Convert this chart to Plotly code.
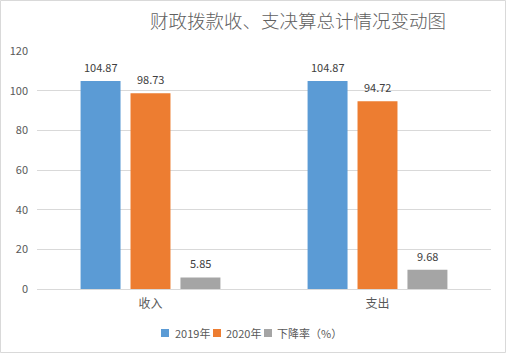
import plotly.graph_objects as go

categories = ["收入", "支出"]
series_names = ["2019年", "2020年", "下降率（%）"]
v2019 = [104.87, 104.87]
v2020 = [98.73, 94.72]
rate = [5.85, 9.68]
colors = ["#5B9BD5", "#ED7D31", "#A5A5A5"]
y_ticks = [0, 20, 40, 60, 80, 100, 120]

W, H = 506, 353
L, R, T, B = 37, 15, 51, 64
pw = W - L - R
ph = H - T - B


def px_x(p):
    return (p - L) / pw


def px_y(p):
    return (H - B - p) / ph


fig = go.Figure()
series = [v2019, v2020, rate]
for i, (name, vals, c) in enumerate(zip(series_names, series, colors)):
    fig.add_trace(go.Bar(
        x=categories, y=vals, name=name, marker=dict(color=c, line=dict(width=0)),
        showlegend=False, cliponaxis=False,
    ))
    for cat, v in zip(categories, vals):
        fig.add_annotation(x=cat, y=v, xref="x", yref="y", text=f"{v:.2f}",
                           showarrow=False, xshift=(i - 1) * 50, yshift=14,
                           yanchor="middle", xanchor="center",
                           font=dict(size=11, color="#404040"))

# border
fig.add_shape(type="rect", xref="paper", yref="paper",
              x0=px_x(0.5), x1=px_x(W - 0.5), y0=px_y(H - 0.5), y1=px_y(0.5),
              line=dict(color="#D9D9D9", width=1), layer="below")

# legend (manual, to match spacing)
sq_left = [161, 213, 264]
txt_left = [173, 224, 275]
ly = 333
for name, c, sx, tx in zip(series_names, colors, sq_left, txt_left):
    fig.add_shape(type="rect", xref="paper", yref="paper",
                  x0=px_x(sx), x1=px_x(sx + 8), y0=px_y(ly + 4), y1=px_y(ly - 4),
                  line=dict(width=0), fillcolor=c)
    fig.add_annotation(x=px_x(tx), y=px_y(ly), xref="paper", yref="paper", text=name,
                       showarrow=False, xanchor="left", yanchor="middle",
                       font=dict(size=11, color="#595959"))

fig.update_layout(
    width=W, height=H,
    margin=dict(l=L, r=R, t=T, b=B, autoexpand=False),
    paper_bgcolor="white", plot_bgcolor="white",
    font=dict(family="Noto Sans CJK SC, Microsoft YaHei, sans-serif", color="#595959", size=11),
    title=dict(text="财政拨款收、支决算总计情况变动图", x=298 / W, xanchor="center",
               y=1 - 22 / H, yanchor="middle",
               font=dict(size=18.5, color="#606060", weight=300)),
    barmode="group", bargap=0.34, bargroupgap=0.2,
    showlegend=False,
    xaxis=dict(showline=True, linecolor="#D9D9D9", linewidth=1, ticks="",
               tickfont=dict(size=12, color="#595959"), showgrid=False, automargin=False,
               ticklabelstandoff=4),
    yaxis=dict(range=[0, 120], tickvals=y_ticks, showgrid=True, gridcolor="#D9D9D9",
               gridwidth=1, zeroline=False, showline=False, ticks="", automargin=False,
               tickfont=dict(size=11, color="#595959"), ticklabelstandoff=8),
)

fig.write_html("out.html")
